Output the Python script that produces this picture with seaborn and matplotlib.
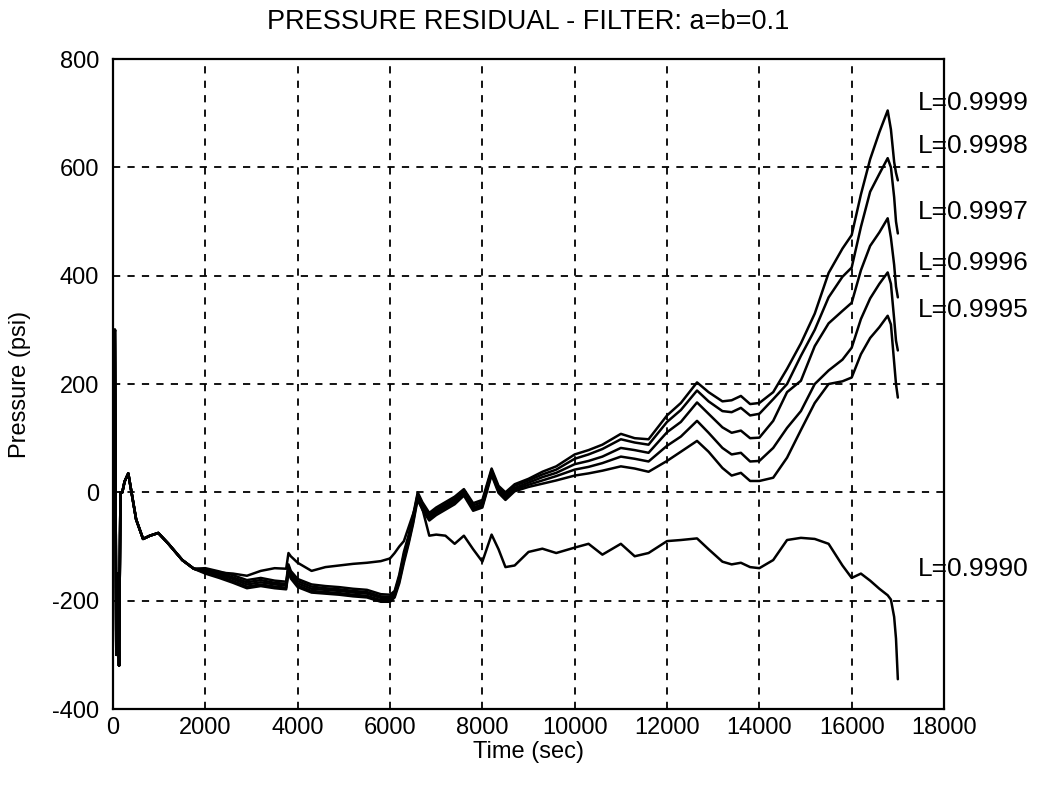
import matplotlib
matplotlib.use("Agg")
import matplotlib.pyplot as plt
import pandas as pd
import seaborn as sns

# Shared start of every run (sec, psi)
T_START = [0, 40, 70, 100, 130, 160, 200, 250, 330, 400, 500, 650, 800, 980, 1200, 1500, 1750]
P_START = [250, 300, -300, -150, -320, 0, 0, 20, 35, 0, -50, -86, -80, -75, -95, -125, -141]

# Time base after the runs separate (sec)
T_TAIL = [2000, 2300, 2600, 2900, 3200, 3500, 3750, 3800, 3850, 4000,
          4300, 4600, 4900, 5200, 5500, 5800, 6000, 6100, 6200, 6300,
          6400, 6500, 6600, 6700, 6850, 7000, 7200, 7400, 7600, 7800,
          8000, 8200, 8350, 8500, 8700, 9000, 9300, 9600, 10000, 10300,
          10600, 11000, 11300, 11600, 12000, 12300, 12650, 12900, 13200, 13400,
          13600, 13800, 14000, 14300, 14600, 14900, 15200, 15500, 15800, 16000,
          16200, 16400, 16600, 16780, 16850, 16920, 16960, 17000]

# Pressure residual per forgetting factor L (psi)
P_9999 = [-140, -146, -153, -162, -158, -163, -165, -133, -145, -160,
          -170, -173, -175, -178, -180, -188, -189, -182, -152, -110,
          -80, -42, 0, -18, -38, -28, -18, -8, 6, -20,
          -14, 44, 12, 0, 15, 25, 38, 48, 70, 78,
          88, 108, 100, 98, 142, 165, 203, 185, 168, 170,
          178, 163, 165, 185, 228, 275, 330, 405, 450, 475,
          550, 615, 665, 705, 670, 610, 590, 576]
P_9998 = [-143, -149, -157, -166, -162, -167, -169, -137, -148, -164,
          -174, -177, -179, -182, -184, -192, -193, -185, -156, -115,
          -84, -46, -3, -22, -42, -32, -22, -12, 3, -24,
          -18, 41, 8, -4, 12, 22, 33, 42, 62, 70,
          80, 98, 92, 88, 130, 152, 188, 168, 150, 148,
          156, 142, 145, 172, 200, 252, 300, 360, 398, 415,
          490, 555, 588, 617, 600, 545, 500, 478]
P_9997 = [-146, -152, -160, -170, -166, -170, -172, -140, -152, -168,
          -178, -180, -182, -185, -187, -195, -196, -188, -160, -120,
          -88, -50, -5, -25, -45, -35, -25, -15, 0, -28,
          -22, 38, 5, -8, 8, 18, 28, 36, 52, 58,
          66, 82, 78, 73, 111, 130, 166, 145, 120, 110,
          114, 100, 101, 132, 185, 206, 270, 312, 335, 350,
          410, 455, 480, 506, 470, 420, 380, 360]
P_9996 = [-148, -155, -164, -174, -170, -174, -176, -144, -156, -172,
          -182, -184, -186, -189, -191, -199, -199, -191, -164, -125,
          -92, -54, -8, -28, -48, -38, -28, -18, -3, -31,
          -25, 35, 2, -11, 5, 14, 22, 30, 42, 47,
          54, 66, 62, 57, 86, 103, 132, 110, 82, 70,
          73, 57, 58, 82, 119, 150, 200, 225, 245, 267,
          320, 358, 385, 406, 385, 320, 280, 262]
P_9995 = [-150, -158, -167, -177, -173, -177, -179, -147, -159, -175,
          -185, -187, -189, -192, -194, -202, -202, -194, -168, -130,
          -96, -58, -12, -32, -52, -42, -32, -22, -6, -34,
          -28, 32, -1, -14, 2, 10, 16, 22, 31, 35,
          40, 48, 44, 38, 58, 75, 95, 75, 45, 31,
          36, 21, 21, 27, 64, 115, 165, 200, 205, 212,
          255, 285, 305, 326, 310, 240, 200, 175]
P_9990 = [-146, -148, -150, -154, -145, -140, -141, -112, -118, -130,
          -145, -138, -135, -132, -130, -127, -122, -112, -100, -90,
          -65, -40, -15, -30, -80, -78, -80, -95, -80, -105,
          -128, -78, -105, -138, -135, -110, -104, -112, -102, -95,
          -115, -95, -118, -112, -90, -88, -85, -105, -128, -133,
          -130, -138, -140, -125, -88, -84, -86, -95, -135, -158,
          -150, -163, -178, -190, -198, -230, -270, -345]

SERIES = {
    "L=0.9999": P_9999,
    "L=0.9998": P_9998,
    "L=0.9997": P_9997,
    "L=0.9996": P_9996,
    "L=0.9995": P_9995,
    "L=0.9990": P_9990,
}
# Where each curve's name is written (time, psi)
LABEL_X = 17430
LABEL_Y = [718, 640, 517, 424, 336, -141]

X_TICKS = list(range(0, 18001, 2000))
Y_TICKS = list(range(-400, 801, 200))

rows = []
for name, vals in SERIES.items():
    for t, p in zip(T_START + T_TAIL, P_START + vals):
        rows.append({"time": t, "pressure": p, "run": name})
df = pd.DataFrame(rows)

sns.set_theme(style="white")
plt.rcParams["font.family"] = ["Liberation Sans", "DejaVu Sans"]
plt.rcParams["axes.unicode_minus"] = False

fig = plt.figure(figsize=(10.4, 7.85), dpi=100)
ax = fig.add_axes([0.1087, 0.0968, 0.799, 0.828])

sns.lineplot(data=df, x="time", y="pressure", hue="run",
             palette={k: "black" for k in SERIES}, estimator=None,
             sort=False, legend=False, linewidth=1.8, ax=ax)

ax.set_xlim(0, 18000)
ax.set_ylim(-400, 800)
ax.set_xticks(X_TICKS)
ax.set_yticks(Y_TICKS)
ax.tick_params(axis="both", length=0, labelsize=17, colors="black")
ax.tick_params(axis="x", pad=6)
ax.tick_params(axis="y", pad=10)
ax.grid(True, color="black", linestyle=(0, (4, 4)), linewidth=1.3)
for sp in ax.spines.values():
    sp.set_color("black")
    sp.set_linewidth(1.6)

for (name, _), y in zip(SERIES.items(), LABEL_Y):
    ax.text(LABEL_X, y, name, fontsize=19, ha="left", va="center",
            color="black", clip_on=False)

ax.set_xlabel("Time (sec)", fontsize=17, color="black")
ax.xaxis.set_label_coords(0.5, -0.066)
ax.xaxis.label.set_va("center")
ax.set_ylabel("Pressure (psi)", fontsize=17, color="black")
ax.yaxis.set_label_coords(-0.112, 0.5)
ax.yaxis.label.set_va("center")

fig.text(0.508, 1 - 22 / 785, "PRESSURE RESIDUAL - FILTER: a=b=0.1",
         fontsize=19.5, ha="center", va="center", color="black")

fig.savefig("out.png", dpi=100, facecolor="white")
